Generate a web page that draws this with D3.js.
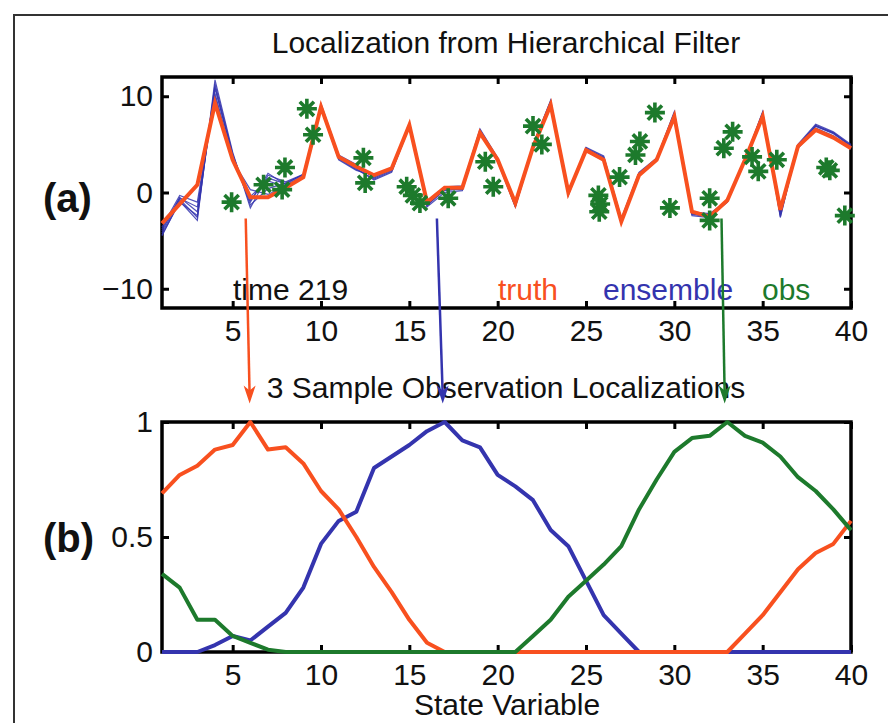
<!DOCTYPE html>
<html>
<head>
<meta charset="utf-8">
<script src="https://cdn.jsdelivr.net/npm/d3@7"></script>
<style>
  html, body { margin: 0; padding: 0; background: #fff; }
  svg { display: block; }
  text { font-family: "Liberation Sans", Arial, sans-serif; }
</style>
</head>
<body>
<svg id="chart" width="888" height="723"></svg>
<script>
"use strict";
// state variable index 1..40
const stateVars = d3.range(1, 41);
const xTicks = [5, 10, 15, 20, 25, 30, 35, 40];
const yTicksTop = [-10, 0, 10];
const yTicksBottom = [0, 0.5, 1];

// truth at time 219
const truth = [-3.2, -1.2, 0.8, 9.3, 3.4, -0.5, -0.5, 0.5, 1.6, 8.9, 3.7, 2.7, 1.8, 2.5, 7.0, -1.0, 0.5, 0.5, 6.2, 3.4,
  -1.1, 4.7, 9.1, 0.0, 4.4, 3.4, -3.0, 1.8, 3.4, 7.9, -2.0, -2.5, -0.8, 3.4, 7.9, -1.8, 4.8, 6.5, 5.7, 4.6];

const member1 = [-4.5, -0.9, -2.9, 11.7, 4.2, -1.6, 1.8, 1.1, 1.9, 9.2, 3.9, 2.9, 1.5, 2.3, 7.1, -1.3, 0.2, 0.4, 6.5, 3.5,
  -1.4, 4.9, 9.6, -0.2, 4.6, 3.7, -2.8, 2.0, 3.5, 8.4, -2.2, -2.5, -0.9, 3.4, 8.3, -2.5, 4.9, 7.0, 6.2, 4.9];
const member2 = [-4.0, -0.5, -2.0, 11.0, 3.8, -1.0, 2.0, 0.8, 1.7, 9.0, 3.6, 2.5, 1.3, 2.1, 6.9, -1.5, 0.0, 0.2, 6.3, 3.2,
  -1.5, 4.6, 9.3, 0.0, 4.5, 3.5, -2.9, 1.9, 3.3, 8.2, -2.3, -2.4, -1.0, 3.3, 8.1, -2.2, 4.7, 6.9, 6.1, 4.8];
const member3 = [-3.6, -0.3, -1.0, 10.3, 3.5, -0.4, 1.2, 0.6, 1.5, 8.8, 3.4, 2.3, 1.8, 2.5, 7.0, -1.1, 0.5, 0.6, 6.1, 3.4,
  -1.2, 4.8, 9.2, 0.2, 4.4, 3.4, -3.0, 1.8, 3.4, 8.0, -2.0, -2.2, -0.8, 3.5, 7.9, -1.9, 4.8, 6.7, 5.9, 4.6];
const member4 = [-4.2, -0.7, -2.6, 11.3, 4.0, -1.3, 0.4, 1.0, 1.8, 9.1, 3.8, 2.7, 1.6, 2.4, 7.2, -0.9, 0.6, 0.7, 6.6, 3.6,
  -1.3, 5.0, 9.5, -0.3, 4.7, 3.8, -2.7, 2.1, 3.6, 8.3, -2.4, -2.6, -0.7, 3.4, 8.4, -2.6, 5.0, 7.1, 6.3, 5.0];
const member5 = [-3.8, -0.6, -1.5, 10.0, 3.3, 0.3, -0.2, 0.7, 1.6, 8.9, 3.5, 2.4, 1.4, 2.2, 6.8, -1.2, 0.3, 0.3, 6.2, 3.3,
  -1.1, 4.5, 9.0, 0.1, 4.3, 3.3, -2.9, 1.8, 3.3, 7.9, -2.1, -2.3, -0.9, 3.3, 8.0, -2.0, 4.6, 6.6, 5.8, 4.5];
const member6 = [-4.4, -1.0, -2.4, 10.8, 3.9, -0.8, 1.5, 0.9, 1.9, 9.0, 3.7, 2.8, 1.7, 2.6, 7.1, -1.4, 0.4, 0.5, 6.4, 3.5,
  -1.5, 4.7, 9.4, -0.1, 4.6, 3.6, -2.8, 2.0, 3.5, 8.1, -2.2, -2.5, -1.0, 3.5, 8.2, -2.3, 4.9, 6.9, 6.2, 4.8];
const ensemble = [member1, member2, member3, member4, member5, member6];

// observations: [location, value]
const obs = [[4.94, -1.0], [6.75, 0.8], [7.8, 0.3], [7.96, 2.6], [9.2, 8.7], [9.55, 6.0], [12.4, 3.6], [12.5, 1.0],
  [14.85, 0.6], [15.2, -0.3], [15.6, -1.1], [17.2, -0.6], [19.3, 3.2], [19.75, 0.6], [22.0, 6.9], [22.5, 5.0],
  [25.7, -0.3], [25.8, -1.2], [25.75, -2.0], [26.9, 1.6], [27.8, 3.9], [28.05, 5.3], [28.9, 8.3], [29.75, -1.6],
  [32.0, -0.6], [32.0, -2.9], [32.8, 4.6], [33.3, 6.3], [34.4, 3.7], [34.75, 2.2], [35.8, 3.4], [38.6, 2.6],
  [38.8, 2.3], [39.65, -2.4]];

// localization weights for three sample observations
const locRed = [0.69, 0.77, 0.81, 0.88, 0.90, 1.0, 0.88, 0.89, 0.82, 0.70, 0.62, 0.50, 0.37, 0.26, 0.14, 0.04, 0, 0, 0, 0,
  0, 0, 0, 0, 0, 0, 0, 0, 0, 0, 0, 0, 0, 0.08, 0.16, 0.26, 0.36, 0.43, 0.47, 0.57];
const locBlue = [0, 0, 0, 0.03, 0.07, 0.05, 0.11, 0.17, 0.28, 0.47, 0.57, 0.61, 0.80, 0.85, 0.90, 0.96, 1.0, 0.92, 0.89, 0.77,
  0.72, 0.66, 0.53, 0.46, 0.31, 0.16, 0.08, 0, 0, 0, 0, 0, 0, 0, 0, 0, 0, 0, 0, 0];
const locGreen = [0.34, 0.28, 0.14, 0.14, 0.07, 0.04, 0.01, 0, 0, 0, 0, 0, 0, 0, 0, 0, 0, 0, 0, 0,
  0, 0.07, 0.14, 0.24, 0.31, 0.38, 0.46, 0.62, 0.75, 0.87, 0.93, 0.94, 1.0, 0.94, 0.91, 0.85, 0.76, 0.70, 0.62, 0.53];

// arrows from obs in (a) down to peaks in (b): [x top, y top], [x bottom, y bottom]
const arrowFrom = [[5.74, -2.7], [16.56, -2.7], [32.67, -2.7]];
const arrowTo = [[5.96, 1.08], [16.89, 1.08], [32.85, 1.08]];

const RED = "#f8501f", BLUE = "#3434ae", GREEN = "#1d7a2c";
const arrowColors = [RED, BLUE, GREEN];

const svg = d3.select("#chart");

// figure frame
svg.append("rect").attr("x", 14).attr("y", 15).attr("width", 900).attr("height", 740)
  .attr("fill", "none").attr("stroke", "#333").attr("stroke-width", 2);

const x = d3.scaleLinear().domain([1, 40]).range([162, 851]);
const yTop = d3.scaleLinear().domain([-12, 12]).range([308, 77]);
const yBot = d3.scaleLinear().domain([0, 1]).range([652, 422]);

function drawAxes(g, y, yTicks, fmt) {
  const x0 = x.range()[0], x1 = x.range()[1];
  const yr = y.range();
  g.append("g").attr("transform", `translate(0,${yr[0]})`)
    .call(d3.axisBottom(x).tickValues(xTicks).tickSizeInner(-7).tickSizeOuter(0).tickPadding(12))
    .call(a => a.select(".domain").remove());
  g.append("g").attr("transform", `translate(0,${yr[1]})`)
    .call(d3.axisTop(x).tickValues(xTicks).tickSizeInner(-7).tickSizeOuter(0).tickFormat(""))
    .call(a => a.select(".domain").remove());
  g.append("g").attr("transform", `translate(${x0},0)`)
    .call(d3.axisLeft(y).tickValues(yTicks).tickSizeInner(-7).tickSizeOuter(0).tickPadding(9).tickFormat(fmt))
    .call(a => a.select(".domain").remove());
  g.append("g").attr("transform", `translate(${x1},0)`)
    .call(d3.axisRight(y).tickValues(yTicks).tickSizeInner(-7).tickSizeOuter(0).tickFormat(""))
    .call(a => a.select(".domain").remove());
  g.selectAll(".tick line").attr("stroke", "#000").attr("stroke-width", 3);
  g.selectAll(".tick text").attr("font-size", 30).attr("fill", "#111")
    .attr("font-family", "Liberation Sans, Arial, sans-serif");
  g.append("rect").attr("x", x0).attr("y", yr[1]).attr("width", x1 - x0).attr("height", yr[0] - yr[1])
    .attr("fill", "none").attr("stroke", "#000").attr("stroke-width", 3.5);
}

// ----- panel (a)
const gA = svg.append("g");
drawAxes(gA, yTop, yTicksTop, d => d < 0 ? "\u2212" + Math.abs(d) : d);

const lineTop = d3.line().x((d, i) => x(stateVars[i])).y(d => yTop(d));

gA.selectAll(".member").data(ensemble).join("path")
  .attr("class", "member")
  .attr("d", lineTop)
  .attr("fill", "none").attr("stroke", BLUE).attr("stroke-width", 1.2).attr("stroke-opacity", 0.85);

gA.append("path").datum(truth).attr("d", lineTop)
  .attr("fill", "none").attr("stroke", RED).attr("stroke-width", 4).attr("stroke-linejoin", "miter");

// asterisk markers for obs
const star = "M-10,0H10M0,-10V10M-7.1,-7.1L7.1,7.1M-7.1,7.1L7.1,-7.1";
gA.selectAll(".obs").data(obs).join("path")
  .attr("class", "obs")
  .attr("transform", d => `translate(${x(d[0])},${yTop(d[1])})`)
  .attr("d", star)
  .attr("stroke", GREEN).attr("stroke-width", 3.6).attr("fill", "none");

const legendY = 300;
gA.append("text").attr("x", 233).attr("y", legendY).attr("font-size", 30).attr("fill", "#111").text("time 219");
gA.append("text").attr("x", 498).attr("y", legendY).attr("font-size", 30).attr("fill", RED).text("truth");
gA.append("text").attr("x", 603).attr("y", legendY).attr("font-size", 30).attr("fill", BLUE).text("ensemble");
gA.append("text").attr("x", 762).attr("y", legendY).attr("font-size", 30).attr("fill", GREEN).text("obs");

svg.append("text").attr("x", 506).attr("y", 53).attr("text-anchor", "middle")
  .attr("font-size", 30).attr("fill", "#111").text("Localization from Hierarchical Filter");

// ----- panel (b)
const gB = svg.append("g");
drawAxes(gB, yBot, yTicksBottom, d => d);

const lineBot = d3.line().x((d, i) => x(stateVars[i])).y(d => yBot(d));
[[locBlue, BLUE], [locRed, RED], [locGreen, GREEN]].forEach(([vals, col]) => {
  gB.append("path").datum(vals).attr("d", lineBot)
    .attr("fill", "none").attr("stroke", col).attr("stroke-width", 4).attr("stroke-linejoin", "round");
});

svg.append("text").attr("x", 506).attr("y", 398).attr("text-anchor", "middle")
  .attr("font-size", 30).attr("fill", "#111").text("3 Sample Observation Localizations");
svg.append("text").attr("x", 507).attr("y", 715).attr("text-anchor", "middle")
  .attr("font-size", 30).attr("fill", "#111").text("State Variable");

// arrows linking (a) to (b)
arrowFrom.forEach((f, i) => {
  const x1 = x(f[0]), y1 = yTop(f[1]);
  const x2 = x(arrowTo[i][0]), y2 = yBot(arrowTo[i][1]);
  svg.append("line").attr("x1", x1).attr("y1", y1).attr("x2", x2).attr("y2", y2 - 8)
    .attr("stroke", arrowColors[i]).attr("stroke-width", 2.5);
  svg.append("path")
    .attr("d", `M${x2},${y2}L${x2 - 6},${y2 - 18}L${x2},${y2 - 13}L${x2 + 6},${y2 - 18}Z`)
    .attr("fill", arrowColors[i]);
});

// panel tags
svg.append("text").attr("x", 43).attr("y", 212).attr("font-family", "Lato, sans-serif")
  .attr("font-weight", 700).attr("font-size", 40).attr("fill", "#111").text("(a)");
svg.append("text").attr("x", 43).attr("y", 552).attr("font-family", "Lato, sans-serif")
  .attr("font-weight", 700).attr("font-size", 40).attr("fill", "#111").text("(b)");
</script>
</body>
</html>
